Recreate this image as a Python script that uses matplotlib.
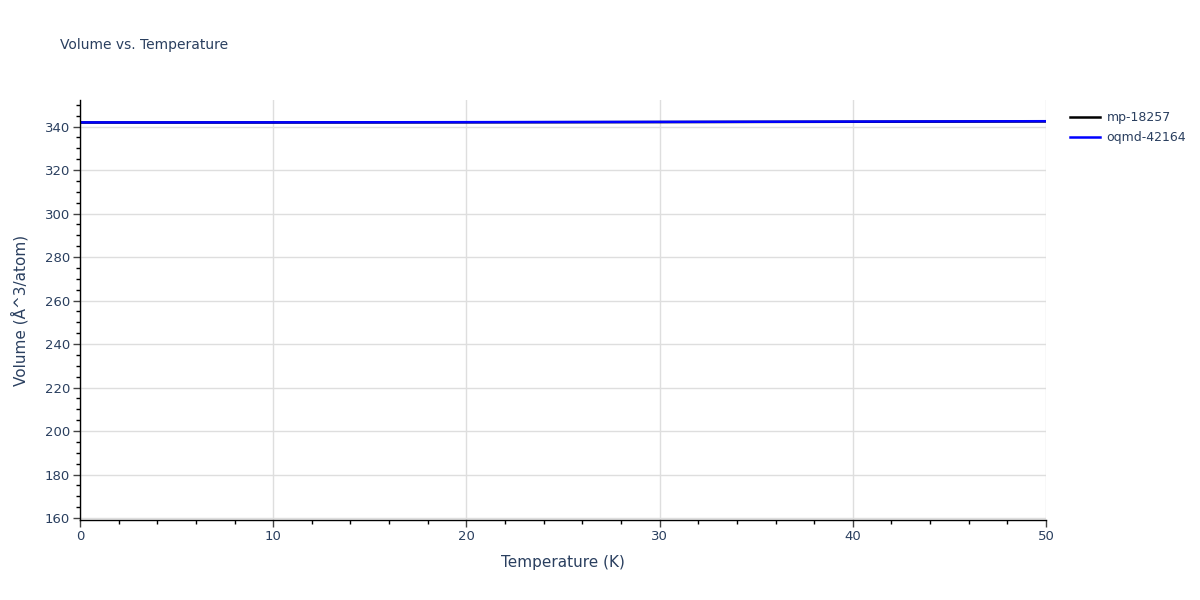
import matplotlib.pyplot as plt
from matplotlib.ticker import MultipleLocator

temps = [0, 5, 10, 15, 20, 25, 30, 35, 40, 45, 50]
vol_mp = [341.85, 341.85, 341.87, 341.9, 341.95, 342.0, 342.06, 342.13, 342.2, 342.28, 342.36]
vol_oqmd = [341.9, 341.9, 341.92, 341.96, 342.01, 342.07, 342.13, 342.2, 342.28, 342.36, 342.45]

txt = '#2a3f5f'
fig = plt.figure(figsize=(12, 6), dpi=100)
ax = fig.add_axes([80 / 1200, 80 / 600, 966 / 1200, 420 / 600])

ax.plot(temps, vol_mp, color='black', lw=1.8, label='mp-18257')
ax.plot(temps, vol_oqmd, color='blue', lw=1.8, label='oqmd-42164')

ax.set_xlim(0, 50)
ax.set_ylim(159.1, 352.2)
ax.xaxis.set_major_locator(MultipleLocator(10))
ax.xaxis.set_minor_locator(MultipleLocator(2))
ax.yaxis.set_major_locator(MultipleLocator(20))
ax.yaxis.set_minor_locator(MultipleLocator(5))
ax.grid(True, which='major', color='#dedede', lw=1)
ax.set_axisbelow(True)

for s in ['top', 'right']:
    ax.spines[s].set_visible(False)
for s in ['left', 'bottom']:
    ax.spines[s].set_color('black')
    ax.spines[s].set_linewidth(1)

ax.tick_params(which='major', length=5, width=1, color='#444444', labelcolor=txt, labelsize=9.5, pad=2)
ax.tick_params(which='minor', length=3, width=1, color='black')

ax.set_xlabel('Temperature (K)', color=txt, fontsize=11, labelpad=9)
ax.set_ylabel('Volume (Å^3/atom)', color=txt, fontsize=11, labelpad=12)
fig.text(60 / 1200, 1 - 45 / 600, 'Volume vs. Temperature', color=txt, fontsize=10, va='center')

leg = ax.legend(loc='upper left', bbox_to_anchor=(1.02, 0.985), frameon=False,
                fontsize=9, handlelength=2.4, handletextpad=0.5,
                labelspacing=0.55, borderaxespad=0)
for t in leg.get_texts():
    t.set_color(txt)

fig.savefig('out.png', dpi=100)
